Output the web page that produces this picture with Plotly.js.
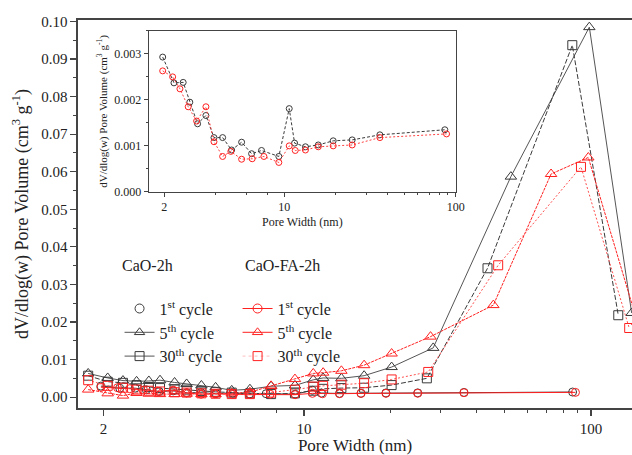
<!DOCTYPE html>
<html>
<head>
<meta charset="utf-8">
<script src="https://cdn.plot.ly/plotly-3.0.1.min.js"></script>
<style>
html,body{margin:0;padding:0;background:#fff;}
#chart{width:632px;height:455px;}
#chart text{font-family:"Liberation Serif","Times New Roman","DejaVu Serif",serif !important;}
</style>
</head>
<body>
<div id="chart"></div>
<script>
// ---- Data ----
// 1st cycle (shown in main plot and inset)
const w1st_CaO   = [1.96, 2.28, 2.58, 2.82, 3.13, 3.50, 3.90, 4.38, 4.94, 5.65, 6.46, 7.38, 9.31, 10.7, 11.5, 13.3, 15.8, 19.3, 24.9, 36.1, 86.3];
const v1st_CaO   = [0.00293, 0.00237, 0.00238, 0.00195, 0.00148, 0.00166, 0.00118, 0.00118, 0.00091, 0.00108, 0.00083, 0.00090, 0.00077, 0.00181, 0.00106, 0.00098, 0.00102, 0.00111, 0.00113, 0.00124, 0.00135];
const w1st_FA    = [1.96, 2.24, 2.47, 2.76, 3.09, 3.50, 3.90, 4.38, 4.89, 5.65, 6.51, 7.62, 9.31, 10.7, 11.6, 13.3, 15.8, 19.3, 24.9, 36.1, 88.3];
const v1st_FA    = [0.00263, 0.00250, 0.00224, 0.00185, 0.00154, 0.00185, 0.00109, 0.00077, 0.00088, 0.00071, 0.00072, 0.00077, 0.00064, 0.00100, 0.00090, 0.00091, 0.00098, 0.00100, 0.00102, 0.00118, 0.00126];
// 5th cycle
const w5th_CaO   = [1.77, 2.07, 2.34, 2.61, 2.88, 3.15, 3.54, 3.90, 4.39, 4.92, 5.60, 6.48, 7.68, 9.30, 10.77, 11.66, 13.5, 16.2, 20.2, 28.2, 52.6, 98.7, 138.6];
const v5th_CaO   = [0.0063, 0.0051, 0.0044, 0.0042, 0.0043, 0.0045, 0.0039, 0.0035, 0.0031, 0.0026, 0.0018, 0.0021, 0.0029, 0.0031, 0.0046, 0.0051, 0.0050, 0.0057, 0.0080, 0.0131, 0.0587, 0.0985, 0.0224];
const w5th_FA    = [1.77, 2.07, 2.34, 2.61, 2.88, 3.15, 3.54, 3.90, 4.39, 4.92, 5.60, 6.48, 7.68, 9.30, 10.77, 11.66, 13.5, 16.2, 20.2, 27.6, 45.7, 72.6, 97.9, 145.0];
const v5th_FA    = [0.0020, 0.0010, 0.0004, 0.0011, 0.0009, 0.0008, 0.0008, 0.0009, 0.0008, 0.0008, 0.0010, 0.0013, 0.0030, 0.0048, 0.0063, 0.0065, 0.0070, 0.0085, 0.0116, 0.0161, 0.0245, 0.0594, 0.0638, 0.0200];
// 30th cycle
const w30th_CaO  = [1.77, 2.07, 2.34, 2.61, 2.88, 3.15, 3.54, 3.90, 4.39, 4.92, 5.60, 6.48, 7.68, 9.30, 10.77, 11.66, 13.5, 16.2, 20.2, 26.8, 43.6, 86.1, 124.5];
const v30th_CaO  = [0.0057, 0.0041, 0.0038, 0.0032, 0.0027, 0.0024, 0.0021, 0.0020, 0.0016, 0.0014, 0.0012, 0.0010, 0.0008, 0.0010, 0.0017, 0.0022, 0.0024, 0.0025, 0.0032, 0.0050, 0.0343, 0.0937, 0.0218];
const w30th_FA   = [1.77, 2.07, 2.34, 2.61, 2.88, 3.15, 3.54, 3.90, 4.39, 4.92, 5.60, 6.48, 7.68, 9.30, 10.77, 11.66, 13.5, 16.2, 20.2, 27.1, 47.5, 92.3, 135.9];
const v30th_FA   = [0.0045, 0.0030, 0.0025, 0.0020, 0.0017, 0.0015, 0.0013, 0.0012, 0.0010, 0.0009, 0.0008, 0.0008, 0.0012, 0.0020, 0.0028, 0.0030, 0.0033, 0.0037, 0.0047, 0.0067, 0.0351, 0.0613, 0.0184];

const xTickVals = [2, 10, 100];
const xMinorVals = [4, 6, 8, 20, 30, 40, 50, 60, 70, 80, 90];
const legendNames = ['1<sup>st</sup> cycle', '5<sup>th</sup> cycle', '30<sup>th</sup> cycle'];
const groupTitles = ['CaO-2h', 'CaO-FA-2h'];

const FONT = 'Liberation Serif, Times New Roman, serif';
const BLK = '#3a3a3a', RED = '#ff2020';

const traces = [];
// main plot traces
traces.push({x: w1st_CaO, y: v1st_CaO, mode: 'lines+markers', showlegend: false,
  line: {color: BLK, width: 1}, marker: {symbol: 'circle-open', size: 8, color: BLK, line: {width: 1}}});
traces.push({x: w5th_CaO, y: v5th_CaO, mode: 'lines+markers', showlegend: false,
  line: {color: '#555', width: 1}, marker: {symbol: 'triangle-up-open', size: 10, color: BLK, line: {width: 1}}});
traces.push({x: w30th_CaO, y: v30th_CaO, mode: 'lines+markers', showlegend: false,
  line: {color: BLK, width: 1, dash: '5px,2px'}, marker: {symbol: 'square-open', size: 9, color: BLK, line: {width: 1}}});
traces.push({x: w1st_FA, y: v1st_FA, mode: 'lines+markers', showlegend: false,
  line: {color: RED, width: 1}, marker: {symbol: 'circle-open', size: 8, color: RED, line: {width: 1}}});
traces.push({x: w5th_FA, y: v5th_FA, mode: 'lines+markers', showlegend: false,
  line: {color: RED, width: 1, dash: '3px,1px'}, marker: {symbol: 'triangle-up-open', size: 10, color: RED, line: {width: 1}}});
traces.push({x: w30th_FA, y: v30th_FA, mode: 'lines+markers', showlegend: false,
  line: {color: '#ff5050', width: 1, dash: '2px,2px'}, marker: {symbol: 'square-open', size: 9, color: RED, line: {width: 1}}});

// legend entries
const legStyles = [
  {legend: 'legend', mode: 'markers', color: BLK, sym: 'circle-open', lc: BLK, dash: 'solid'},
  {legend: 'legend', mode: 'lines+markers', color: BLK, sym: 'triangle-up-open', lc: '#555', dash: 'solid'},
  {legend: 'legend', mode: 'lines+markers', color: BLK, sym: 'square-open', lc: '#555', dash: 'solid'},
  {legend: 'legend2', mode: 'lines+markers', color: RED, sym: 'circle-open', lc: RED, dash: 'solid'},
  {legend: 'legend2', mode: 'lines+markers', color: RED, sym: 'triangle-up-open', lc: RED, dash: 'solid'},
  {legend: 'legend2', mode: 'lines+markers', color: RED, sym: 'square-open', lc: '#ffc0c0', dash: 'dot'}
];
legStyles.forEach((s, i) => {
  traces.push({x: [null], y: [null], mode: s.mode, name: legendNames[i % 3], legend: s.legend, showlegend: true,
    line: {color: s.lc, width: 1, dash: s.dash},
    marker: {symbol: s.sym, size: 9, color: s.color, line: {width: 1}}});
});

// inset traces
traces.push({x: w1st_CaO, y: v1st_CaO, xaxis: 'x2', yaxis: 'y2', mode: 'lines+markers', showlegend: false,
  line: {color: BLK, width: 1, dash: '3px,2px'}, marker: {symbol: 'circle-open', size: 6, color: BLK, line: {width: 1}}});
traces.push({x: w1st_FA, y: v1st_FA, xaxis: 'x2', yaxis: 'y2', mode: 'lines+markers', showlegend: false,
  line: {color: '#ff4040', width: 1, dash: '2px,2px'}, marker: {symbol: 'circle-open', size: 6, color: RED, line: {width: 1}}});

const axCommon = {showgrid: false, zeroline: false, showline: true, linecolor: '#444', ticks: 'outside', tickcolor: '#444'};

const layout = {
  width: 632, height: 455,
  margin: {l: 78, r: 0, t: 20, b: 47},
  paper_bgcolor: '#fff', plot_bgcolor: '#fff',
  font: {family: FONT, color: '#222'},
  xaxis: Object.assign({}, axCommon, {
    type: 'log', range: [0.2125, 2.143], tickmode: 'array', tickvals: xTickVals, ticktext: xTickVals.map(String),
    linewidth: 1.6, mirror: true, ticklen: 6, tickwidth: 1.2,
    minor: {tickmode: 'array', tickvals: xMinorVals, ticks: 'outside', ticklen: 3, tickcolor: '#444', tickwidth: 1},
    tickfont: {family: FONT, size: 15, color: '#222'},
    title: {text: 'Pore Width (nm)', font: {family: FONT, size: 17, color: '#222'}, standoff: 6}
  }),
  yaxis: Object.assign({}, axCommon, {
    range: [-0.0029, 0.1004], tick0: 0, dtick: 0.01, tickformat: '.2f',
    linewidth: 1.6, ticklen: 6, tickwidth: 1.2,
    minor: {dtick: 0.005, ticks: 'outside', ticklen: 3, tickcolor: '#444', tickwidth: 1},
    tickfont: {family: FONT, size: 15, color: '#222'},
    title: {text: 'dV/dlog(w) Pore Volume (cm<sup>3</sup> g<sup>-1</sup>)', font: {family: FONT, size: 18, color: '#222'}, standoff: 8}
  }),
  xaxis2: Object.assign({}, axCommon, {
    domain: [0.128, 0.682], anchor: 'y2', type: 'log', range: [0.212, 2],
    tickmode: 'array', tickvals: xTickVals, ticktext: xTickVals.map(String),
    linewidth: 1.2, mirror: true, ticklen: 4,
    minor: {tickmode: 'array', tickvals: xMinorVals, ticks: 'outside', ticklen: 2, tickcolor: '#444'},
    tickfont: {family: FONT, size: 12, color: '#222'},
    title: {text: 'Pore Width (nm)', font: {family: FONT, size: 12, color: '#222'}, standoff: 4}
  }),
  yaxis2: Object.assign({}, axCommon, {
    domain: [0.557, 0.972], anchor: 'x2', range: [0, 0.0035], tick0: 0, dtick: 0.001, tickformat: '.3f',
    linewidth: 1.2, mirror: true, ticklen: 4,
    minor: {dtick: 0.0005, ticks: 'outside', ticklen: 2, tickcolor: '#444'},
    tickfont: {family: FONT, size: 12, color: '#222'},
    title: {text: 'dV/dlog(w) Pore Volume (cm<sup>3</sup> g<sup>-1</sup>)', font: {family: FONT, size: 11, color: '#222'}, standoff: 4}
  }),
  legend: {x: 0.075, y: 0.3, xanchor: 'left', yanchor: 'top', bgcolor: 'rgba(0,0,0,0)',
    font: {family: FONT, size: 16, color: '#222'}, tracegroupgap: 0},
  legend2: {x: 0.288, y: 0.3, xanchor: 'left', yanchor: 'top', bgcolor: 'rgba(0,0,0,0)',
    font: {family: FONT, size: 16, color: '#222'}, tracegroupgap: 0},
  annotations: [
    {text: groupTitles[0], xref: 'paper', yref: 'paper', x: 0.075, y: 0.367, xanchor: 'left', yanchor: 'middle', showarrow: false,
      font: {family: FONT, size: 16, color: '#222'}},
    {text: groupTitles[1], xref: 'paper', yref: 'paper', x: 0.297, y: 0.367, xanchor: 'left', yanchor: 'middle', showarrow: false,
      font: {family: FONT, size: 16, color: '#222'}}
  ]
};

Plotly.newPlot('chart', traces, layout, {displayModeBar: false, staticPlot: true});
</script>
</body>
</html>
